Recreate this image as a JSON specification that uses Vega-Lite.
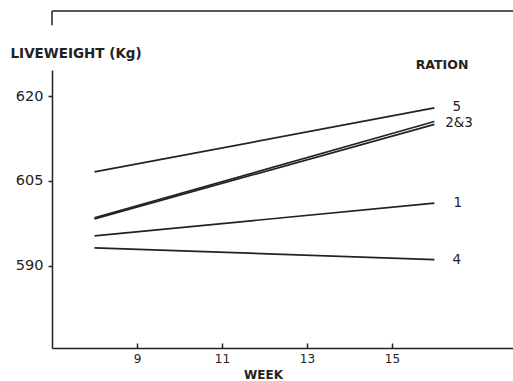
{
  "$schema": "https://vega.github.io/schema/vega-lite/v6.json",
  "width": 461,
  "height": 278,
  "autosize": "none",
  "padding": {"left": 52, "top": 70, "right": 0, "bottom": 33},
  "background": "white",
  "config": {
    "view": {"stroke": null},
    "font": "DejaVu Sans",
    "axis": {"domainColor": "#222", "tickColor": "#222", "labelColor": "#222", "titleColor": "#222", "grid": false, "domainWidth": 1.5, "tickWidth": 1.5}
  },
  "datasets": {
    "lines": [
      {"ration": "5", "week": 8, "weight": 606.6},
      {"ration": "5", "week": 16, "weight": 617.9},
      {"ration": "2", "week": 8, "weight": 598.3},
      {"ration": "2", "week": 16, "weight": 615.0},
      {"ration": "3", "week": 8, "weight": 598.5},
      {"ration": "3", "week": 16, "weight": 615.5},
      {"ration": "1", "week": 8, "weight": 595.3},
      {"ration": "1", "week": 16, "weight": 601.1},
      {"ration": "4", "week": 8, "weight": 593.2},
      {"ration": "4", "week": 16, "weight": 591.1}
    ],
    "labels": [
      {"label": "5", "week": 16.53, "weight": 618.1},
      {"label": "2&3", "week": 16.58, "weight": 615.2},
      {"label": "1", "week": 16.55, "weight": 601.1},
      {"label": "4", "week": 16.53, "weight": 591.0}
    ],
    "header": [
      {"label": "RATION", "week": 16.18, "weight": 625.4}
    ]
  },
  "layer": [
    {
      "data": {"name": "lines"},
      "mark": {"type": "line", "color": "#222", "strokeWidth": 1.7},
      "encoding": {
        "x": {"field": "week", "type": "quantitative", "scale": {"domain": [7, 17.85], "nice": false, "zero": false},
          "axis": {"values": [9, 11, 13, 15], "tickSize": -5, "labelPadding": 10, "labelFontSize": 12, "title": "WEEK", "titleFontSize": 12, "titleFontWeight": "bold", "titleBaseline": "middle", "titleX": 211, "titleY": 26}},
        "y": {"field": "weight", "type": "quantitative", "scale": {"domain": [575.5, 624.6], "nice": false, "zero": false},
          "axis": {"values": [590, 605, 620], "tickSize": 4, "labelPadding": 5, "labelFontSize": 14.5, "title": "LIVEWEIGHT (Kg)", "titleAngle": 0, "titleAlign": "left", "titleBaseline": "middle", "titleFontSize": 13.5, "titleFontWeight": "bold", "titleX": -42, "titleY": -17}},
        "detail": {"field": "ration"}
      }
    },
    {
      "data": {"name": "labels"},
      "mark": {"type": "text", "color": "#222", "fontSize": 13.5, "align": "center", "baseline": "middle"},
      "encoding": {
        "x": {"field": "week", "type": "quantitative"},
        "y": {"field": "weight", "type": "quantitative"},
        "text": {"field": "label"}
      }
    },
    {
      "data": {"name": "header"},
      "mark": {"type": "text", "color": "#222", "fontSize": 12.5, "fontWeight": "bold", "align": "center", "baseline": "middle"},
      "encoding": {
        "x": {"field": "week", "type": "quantitative"},
        "y": {"field": "weight", "type": "quantitative"},
        "text": {"field": "label"}
      }
    },
    {
      "data": {"values": [{}]},
      "mark": {"type": "rule", "color": "#222", "strokeWidth": 1.5},
      "encoding": {
        "x": {"datum": 7},
        "x2": {"datum": 17.85},
        "y": {"datum": 635}
      }
    },
    {
      "data": {"values": [{}]},
      "mark": {"type": "rule", "color": "#222", "strokeWidth": 1.5},
      "encoding": {
        "x": {"datum": 7},
        "y": {"datum": 635},
        "y2": {"datum": 632.5}
      }
    }
  ]
}
